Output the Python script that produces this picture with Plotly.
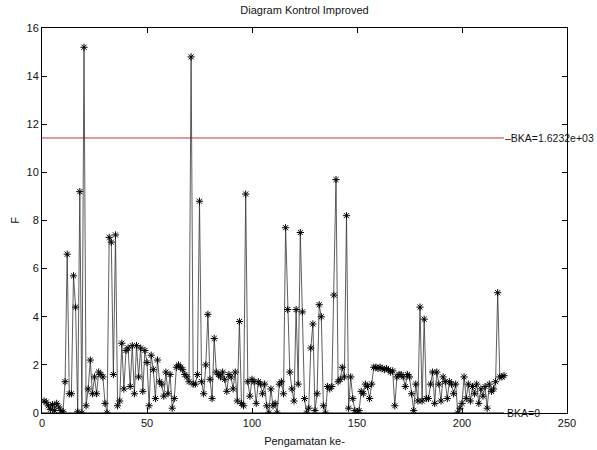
import plotly.graph_objects as go

title_text = "Diagram Kontrol Improved"
x_label = "Pengamatan ke-"
y_label = "F"
ucl_value = 11.43
ucl_label = "\u2013BKA=1.6232e+03"
lcl_value = 0.0
lcl_label = "BKA=0"

f_values = [
    0.5, 0.45, 0.3, 0.15, 0.35, 0.1, 0.4, 0.25, 0.1, 0.05,
    1.3, 6.6, 0.8, 0.8, 5.7, 4.4, 0.05, 9.2, 0.0, 15.2,
    0.3, 1.0, 2.2, 0.8, 1.5, 0.8, 1.7, 1.6, 1.5, 0.4,
    0.0, 7.3, 7.1, 1.6, 7.4, 0.3, 0.5, 2.9, 1.0, 2.6,
    2.7, 1.1, 2.8, 0.8, 2.8, 1.5, 2.7, 0.9, 2.6, 2.1,
    0.3, 2.4, 1.8, 0.6, 2.2, 1.3, 1.2, 0.7, 1.7, 0.8,
    1.6, 0.2, 0.6, 1.9, 2.0, 1.9, 1.8, 1.6, 1.5, 1.3,
    14.8, 1.2, 1.2, 1.6, 8.8, 1.3, 0.8, 2.0, 4.1, 1.4,
    0.6, 3.1, 1.7, 1.6, 1.5, 1.7, 1.4, 0.9, 1.6, 1.5,
    1.0, 1.7, 0.5, 3.8, 0.4, 0.3, 9.1, 1.3, 0.7, 1.4,
    1.3, 0.4, 1.3, 1.2, 0.8, 1.2, 0.3, 0.0, 1.0, 0.3,
    0.4, 0.0, 1.2, 1.3, 0.8, 7.7, 4.3, 1.7, 1.0, 0.5,
    4.3, 1.2, 7.5, 4.2, 0.6, 0.0, 0.2, 2.7, 3.7, 0.1,
    0.8, 4.5, 4.0, 0.3, 0.0, 1.1, 1.0, 1.1, 4.9, 9.7,
    1.3, 1.4, 1.9, 1.5, 8.2, 0.2, 1.5, 0.6, 0.1, 0.0,
    0.1, 0.9, 0.8, 1.2, 1.1, 0.6, 1.2, 1.9, 1.9, 1.85,
    1.9, 1.85, 1.8, 1.85, 1.8, 1.7, 1.75, 0.3, 1.5, 1.6,
    1.6, 1.5, 1.1, 1.6, 1.5, 0.8, 0.1, 1.2, 0.5, 4.4,
    0.5, 3.9, 0.6, 0.6, 1.2, 1.7, 0.4, 1.7, 1.2, 0.5,
    1.5, 1.3, 0.6, 1.3, 1.2, 0.8, 1.2, 0.0, 0.2, 0.4,
    1.5, 0.6, 1.2, 0.5, 1.1, 0.8, 1.2, 0.4, 1.0, 0.7,
    1.1, 0.2, 1.2, 0.9, 1.0, 1.3, 5.0, 1.5, 1.5, 1.55,
]
obs = list(range(1, len(f_values) + 1))
n = len(f_values)

x_ticks = [0, 50, 100, 150, 200, 250]
y_ticks = [0, 2, 4, 6, 8, 10, 12, 14, 16]

font_family = "Liberation Sans, Arial, sans-serif"

fig = go.Figure()
fig.add_trace(go.Scatter(
    x=[0, n], y=[ucl_value, ucl_value], mode="lines",
    line=dict(color="#c83232", width=1), showlegend=False, hoverinfo="skip"))
fig.add_trace(go.Scatter(
    x=[0, n], y=[lcl_value, lcl_value], mode="lines",
    line=dict(color="#000000", width=1), showlegend=False, hoverinfo="skip"))
fig.add_trace(go.Scatter(
    x=obs, y=f_values, mode="lines+markers",
    line=dict(color="#333333", width=0.8),
    marker=dict(symbol="asterisk-open", size=6, color="#000000",
                line=dict(color="#000000", width=1)),
    showlegend=False))

fig.add_annotation(x=n, y=ucl_value, text=ucl_label, showarrow=False,
                   xanchor="left", yanchor="middle", xshift=-1,
                   font=dict(size=10.5, color="#111", family=font_family))
fig.add_annotation(x=n, y=lcl_value, text=lcl_label, showarrow=False,
                   xanchor="left", yanchor="middle", xshift=1,
                   font=dict(size=10.5, color="#111", family=font_family))

axis_common = dict(showline=True, linecolor="#000", linewidth=1, mirror="ticks",
                   ticks="inside", ticklen=5, tickcolor="#000", showgrid=False,
                   zeroline=False, automargin=False,
                   tickfont=dict(size=11, color="#111", family=font_family))

fig.update_layout(
    width=597, height=450,
    margin=dict(l=42, r=30, t=28, b=37),
    paper_bgcolor="white", plot_bgcolor="white",
    title=dict(text=title_text, x=0.51, xanchor="center", y=0.985, yanchor="top",
               font=dict(size=11, color="#111", family=font_family)),
    font=dict(family=font_family, size=11, color="#111"),
    xaxis=dict(range=[0, 250], tickvals=x_ticks,
               title=dict(text=x_label, standoff=9, font=dict(size=11)), **axis_common),
    yaxis=dict(range=[0, 16], tickvals=y_ticks,
               title=dict(text=y_label, standoff=4, font=dict(size=11)), **axis_common),
)

fig.write_html("out.html")
